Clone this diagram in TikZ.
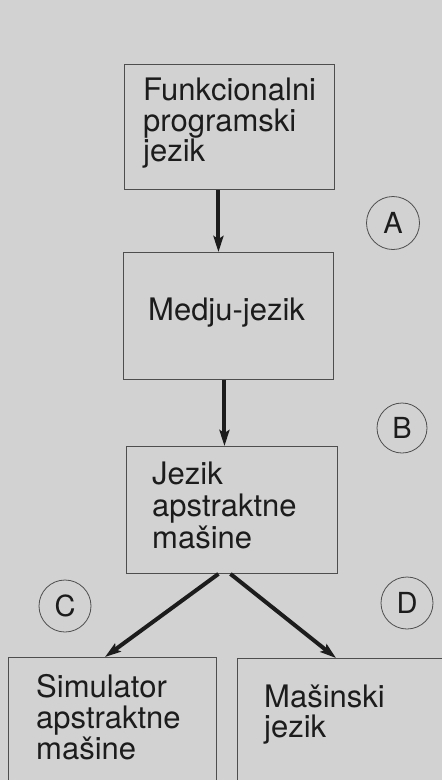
\documentclass[tikz,border=0pt]{standalone}
\usepackage{fontspec}
\setmainfont{TeX Gyre Heros}
\usetikzlibrary{arrows.meta}
\definecolor{paper}{RGB}{210,210,210}
\definecolor{ink}{RGB}{28,28,28}
\definecolor{frame}{RGB}{78,78,78}
\tikzset{
  box/.style={draw=frame, line width=0.9pt, fill=paper, rectangle, inner sep=0pt, anchor=north west},
  txt/.style={anchor=base west, inner sep=0pt, text=ink, font=\fontsize{31}{31}\selectfont},
  ringlabel/.style={draw=frame, line width=0.8pt, circle, inner sep=0pt, text=ink, font=\fontsize{29}{29}\selectfont},
  arr/.style={draw=ink, line width=4pt, -{Stealth[length=16pt,width=10pt,inset=3pt]}},
}
\begin{document}
\begin{tikzpicture}[x=1pt,y=-1pt]
\useasboundingbox (0,0) rectangle (442,780);
\clip (0,0) rectangle (442,780);
\fill[paper] (0,0) rectangle (442,780);

% boxes
\node[box, minimum width=210pt, minimum height=125pt] (b1) at (124,64) {};
\node[box, minimum width=210pt, minimum height=127pt] (b2) at (123,252) {};
\node[box, minimum width=211pt, minimum height=127pt] (b3) at (126,446) {};
\node[box, minimum width=208pt, minimum height=160pt] (b4) at (8,657) {};
\node[box, minimum width=220pt, minimum height=160pt] (b5) at (237,658) {};

% box texts
\node[txt] (t1a) at (143,100) {Funkcionalni};
\node[txt] (t1b) at (143,131) {programski};
\node[txt] (t1c) at (143,161) {jezik};
\node[txt] (t2a) at (148,320) {Medju-jezik};
\node[txt] (t3a) at (152,484) {Jezik};
\node[txt] (t3b) at (152,516) {apstraktne};
\node[txt] (t3c) at (152,548) {mašine};
\node[txt] (t4a) at (36,697) {Simulator};
\node[txt] (t4b) at (36,728) {apstraktne};
\node[txt] (t4c) at (36,759) {mašine};
\node[txt] (t5a) at (264,707) {Mašinski};
\node[txt] (t5b) at (264,737) {jezik};

% circled labels
\node[ringlabel, minimum size=53pt] (mA) at (393,223) {A};
\node[ringlabel, minimum size=50pt] (mB) at (402,428) {B};
\node[ringlabel, minimum size=52pt] (mC) at (65,606) {C};
\node[ringlabel, minimum size=52pt] (mD) at (407,603) {D};

% connectors
\draw[arr] ([xshift=-11pt]b1.south) -- ([xshift=-10pt]b2.north);
\draw[arr] ([xshift=-4pt]b2.south) -- ([xshift=-7.5pt]b3.north);
\draw[arr] ([xshift=-13.5pt]b3.south) -- ([xshift=97pt]b4.north west);
\draw[arr] ([xshift=-1.5pt]b3.south) -- ([xshift=99pt]b5.north west);
\end{tikzpicture}
\end{document}
